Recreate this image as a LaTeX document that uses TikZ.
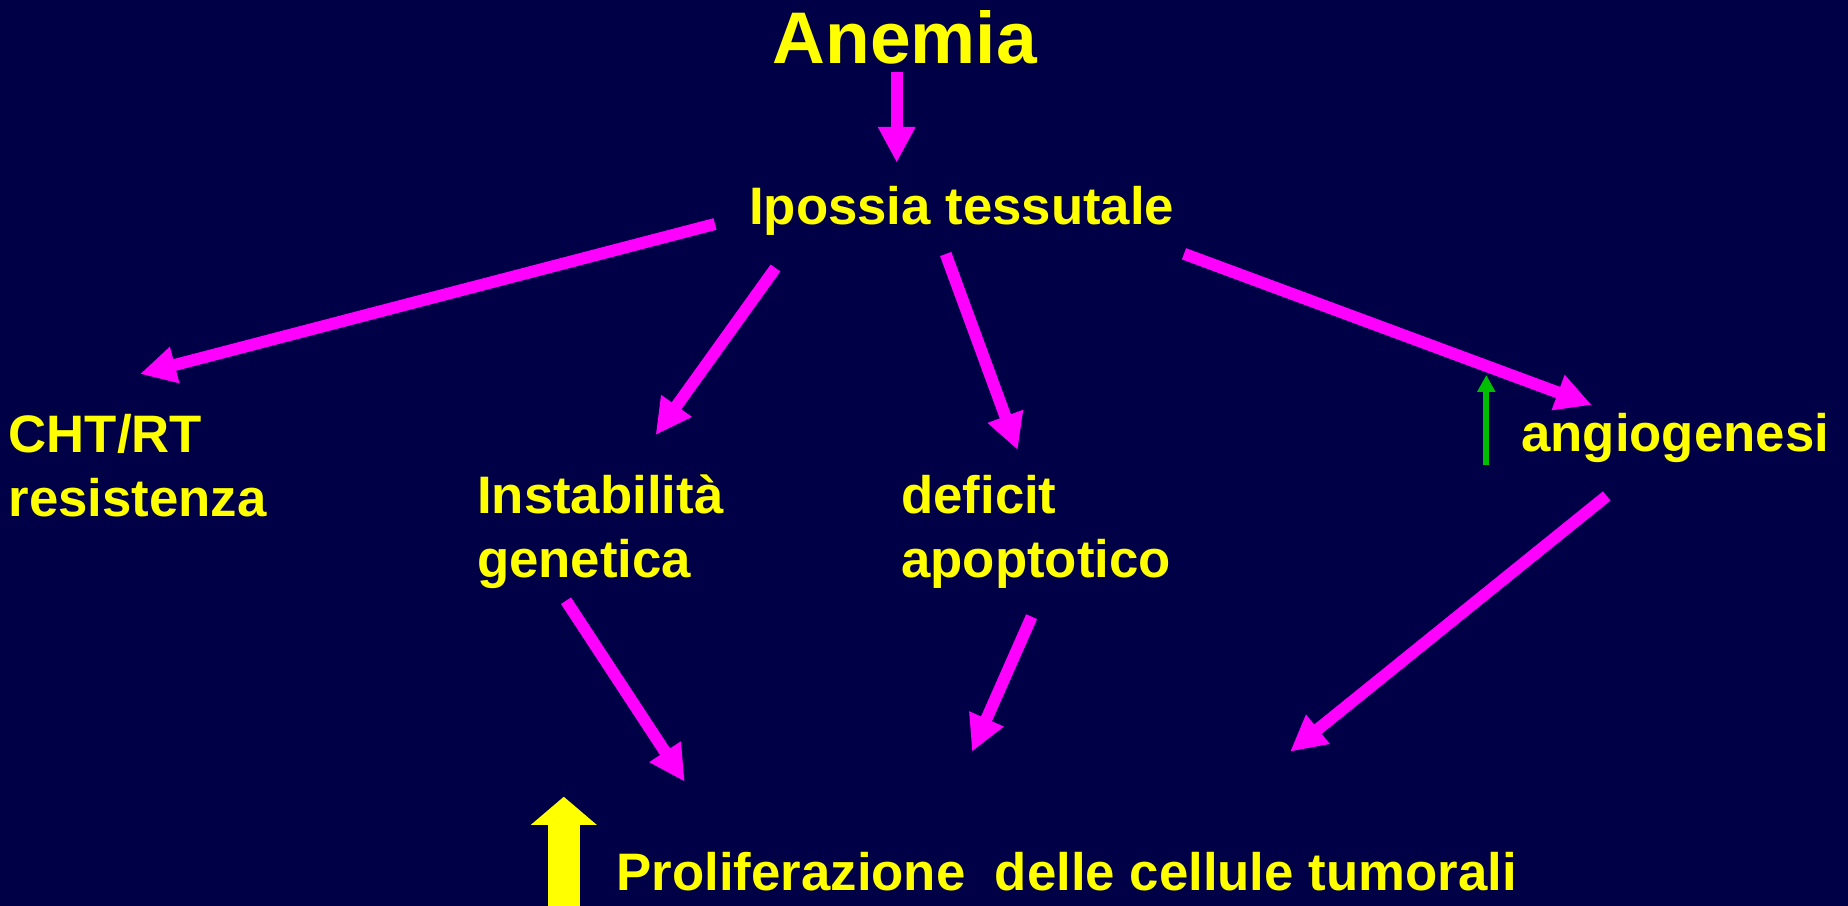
\documentclass[tikz,border=0pt]{standalone}
\usepackage{fontspec}
\setmainfont{Liberation Sans}
\usetikzlibrary{arrows.meta}
\definecolor{mnavy}{rgb}{0, 0, 0.28}
\definecolor{mmagenta}{rgb}{1, 0, 1}
\definecolor{myellow}{rgb}{1, 1, 0}
\definecolor{mgreen}{rgb}{0, 0.75, 0}
\tikzset{lbl/.style = {text=myellow, inner sep=0, anchor=base west, align=left,
                       font={\fontsize{15}{18.2}\selectfont\bfseries}}}
\tikzset{mag/.style = {draw=mmagenta, line width=3.4pt,
                       -{Triangle[length=10.2pt, width=10pt]}}}
\tikzset{up/.style = {draw=mgreen, line width=1.7pt,
                      -{Triangle[length=4.8pt, width=4.9pt]}}}
\tikzset{bigup/.style = {draw=myellow, line width=9.2pt,
                         -{Triangle[length=8pt, width=18.3pt]}}}

\begin{document}
\begin{tikzpicture}[x=0.01cm, y=-0.01cm]
  \useasboundingbox (0, 0) rectangle (1848, 906);
  \fill [mnavy] (0, 0) rectangle (1848, 906);

  \node [lbl, font={\fontsize{20.8}{24}\selectfont\bfseries}] (anemia) at (772, 63.3) {Anemia};
  \node [lbl] (ipo) at (748.5, 224) {Ipossia tessutale};
  \node [lbl] (cht) at (8, 516.7) {CHT/RT\\resistenza};
  \node [lbl] (instab) at (476.5, 577) {Instabilità\\genetica};
  \node [lbl] (deficit) at (900.5, 577) {deficit\\apoptotico};
  \node [lbl] (angio) at (1520.5, 451.7) {angiogenesi};
  \node [lbl] (prolif) at (616, 890) {Proliferazione\ \ delle cellule tumorali};

  \coordinate (anemia-s) at (896.7, 71.7);
  \coordinate (ipo-n) at (896.7, 162.7);
  \coordinate (ipo-w) at (715, 224);
  \coordinate (ipo-sw) at (775.5, 268);
  \coordinate (ipo-s) at (945.7, 254);
  \coordinate (ipo-e) at (1184, 253.8);
  \coordinate (cht-n) at (140, 374);
  \coordinate (instab-n) at (655.6, 435);
  \coordinate (instab-s) at (566, 600.7);
  \coordinate (deficit-n) at (1017.7, 450);
  \coordinate (deficit-s) at (1031.6, 616.7);
  \coordinate (angio-n) at (1591.7, 405);
  \coordinate (angio-s) at (1606.7, 496);
  \coordinate (angio-w) at (1486.3, 465);
  \coordinate (angio-nw) at (1486.3, 375);
  \coordinate (prolif-a) at (684.7, 781.7);
  \coordinate (prolif-b) at (972, 751.7);
  \coordinate (prolif-c) at (1290, 751.7);
  \coordinate (prolif-w) at (563.8, 906);
  \coordinate (prolif-nw) at (563.8, 796.7);

  \draw [mag] (anemia-s) -- (ipo-n);
  \draw [mag] (ipo-w) -- (cht-n);
  \draw [mag] (ipo-sw) -- (instab-n);
  \draw [mag] (ipo-s) -- (deficit-n);
  \draw [mag] (ipo-e) -- (angio-n);
  \draw [mag] (instab-s) -- (prolif-a);
  \draw [mag] (deficit-s) -- (prolif-b);
  \draw [mag] (angio-s) -- (prolif-c);
  \draw [up] (angio-w) -- (angio-nw);
  \draw [bigup] (prolif-w) -- (prolif-nw);
\end{tikzpicture}
\end{document}
